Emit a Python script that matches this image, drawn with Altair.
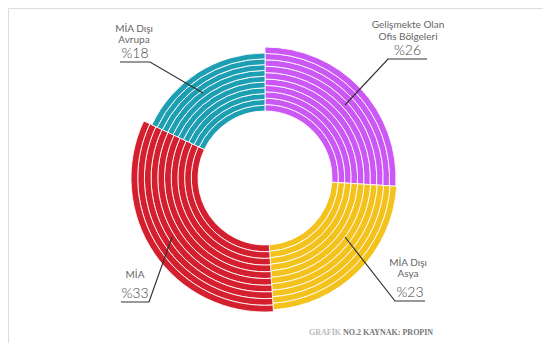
import altair as alt
import pandas as pd

# ---- data ----
categories = ["Gelişmekte Olan Ofis Bölgeleri", "MİA Dışı Asya", "MİA", "MİA Dışı Avrupa"]
shares = [26, 23, 33, 18]
pct_labels = ["%26", "%23", "%33", "%18"]
name_lines = [["Gelişmekte Olan", "Ofis Bölgeleri"], ["MİA Dışı", "Asya"], ["MİA"], ["MİA Dışı", "Avrupa"]]
footer_light = "GRAFİK"
footer_dark = "NO.2  KAYNAK: PROPIN"

# ---- styling / layout (not data) ----
colors = ["#CB57F4", "#F4C21C", "#D31F2E", "#1E9EB2"]
outer_r = [131, 132, 134, 125]
inner_r = 67
n_rings = 10
cx, cy = 257, 170
W, H = 535, 335

# label anchor (center x, y of first text line), underline and leader end
label_pos = {
    "Gelişmekte Olan Ofis Bölgeleri": dict(x=400, y=17, sp=12, ux=(419, 380), uy=51, end=(337, 97)),
    "MİA Dışı Asya": dict(x=400, y=255, sp=11, ux=(417, 387), uy=293, end=(337, 229)),
    "MİA": dict(x=127, y=267, sp=11, ux=(113, 141), uy=294, end=(164, 229)),
    "MİA Dışı Avrupa": dict(x=126, y=21, sp=11, ux=(112, 142), uy=54, end=(195, 85)),
}

rows = []
for i, (c, v) in enumerate(zip(categories, shares)):
    step = (outer_r[i] - inner_r) / n_rings
    for k in range(n_rings):
        rows.append(dict(cat=c, value=v, order=i, ring=k,
                         r0=inner_r + k * step, r1=inner_r + (k + 1) * step))
ring_df = pd.DataFrame(rows)

donut = alt.Chart(ring_df).transform_window(
    cum="sum(value)", groupby=["ring"], sort=[alt.SortField("order")], frame=[None, 0]
).transform_calculate(
    start="datum.cum - datum.value"
).mark_arc(stroke="white", strokeWidth=1.0, strokeOpacity=0.85).encode(
    theta=alt.Theta("start:Q", scale=alt.Scale(domain=[0, 100], range=[0, 6.283185307])),
    theta2="cum:Q",
    radius=alt.Radius("r0:Q", scale=None),
    radius2="r1:Q",
    color=alt.Color("cat:N", scale=alt.Scale(domain=categories, range=colors), legend=None),
    x=alt.value(cx),
    y=alt.value(cy),
)

trows = []
lrows = []
for c, names, p in zip(categories, name_lines, pct_labels):
    lp = label_pos[c]
    for j, t in enumerate(names):
        trows.append(dict(x=lp["x"], y=lp["y"] + j * lp["sp"], t=t, kind="name"))
    trows.append(dict(x=(lp["ux"][0] + lp["ux"][1]) / 2, y=lp["uy"] - 8, t=p, kind="pct"))
    pts = [(lp["ux"][0], lp["uy"]), (lp["ux"][1], lp["uy"]), lp["end"]]
    for j, (px, py) in enumerate(pts):
        lrows.append(dict(cat=c, o=j, x=px, y=py))
text_df = pd.DataFrame(trows)
line_df = pd.DataFrame(lrows)

X = lambda f: alt.X(f, scale=None, axis=None)
Y = lambda f: alt.Y(f, scale=None, axis=None)

names = alt.Chart(text_df).transform_filter("datum.kind == 'name'").mark_text(
    font="Lato", fontSize=10, color="#666666", align="center", baseline="middle"
).encode(x=X("x:Q"), y=Y("y:Q"), text="t:N")

pcts = alt.Chart(text_df).transform_filter("datum.kind == 'pct'").mark_text(
    font="Lato", fontSize=14, fontWeight=300, color="#444444", align="center", baseline="middle"
).encode(x=X("x:Q"), y=Y("y:Q"), text="t:N")

leaders = alt.Chart(line_df).mark_line(color="#333333", strokeWidth=1.2).encode(
    x=X("x:Q"), y=Y("y:Q"), detail="cat:N", order="o:Q"
)

f1 = alt.Chart(pd.DataFrame([dict(x=301, y=325, t=footer_light)])).mark_text(
    font="Liberation Serif", fontSize=8, fontWeight="bold", align="left", baseline="middle", color="#BBBBBB"
).encode(x=X("x:Q"), y=Y("y:Q"), text="t:N")
f2 = alt.Chart(pd.DataFrame([dict(x=335, y=325, t=footer_dark)])).mark_text(
    font="Liberation Serif", fontSize=8, fontWeight="bold", align="left", baseline="middle", color="#777777"
).encode(x=X("x:Q"), y=Y("y:Q"), text="t:N")

chart = alt.layer(donut, leaders, names, pcts, f1, f2).properties(
    width=W, height=H, padding=0, autosize=alt.AutoSizeParams(type="none")
).configure_view(stroke=None).configure(background="white")

chart.save("out.html", embed_options={"renderer": "svg", "actions": False})
